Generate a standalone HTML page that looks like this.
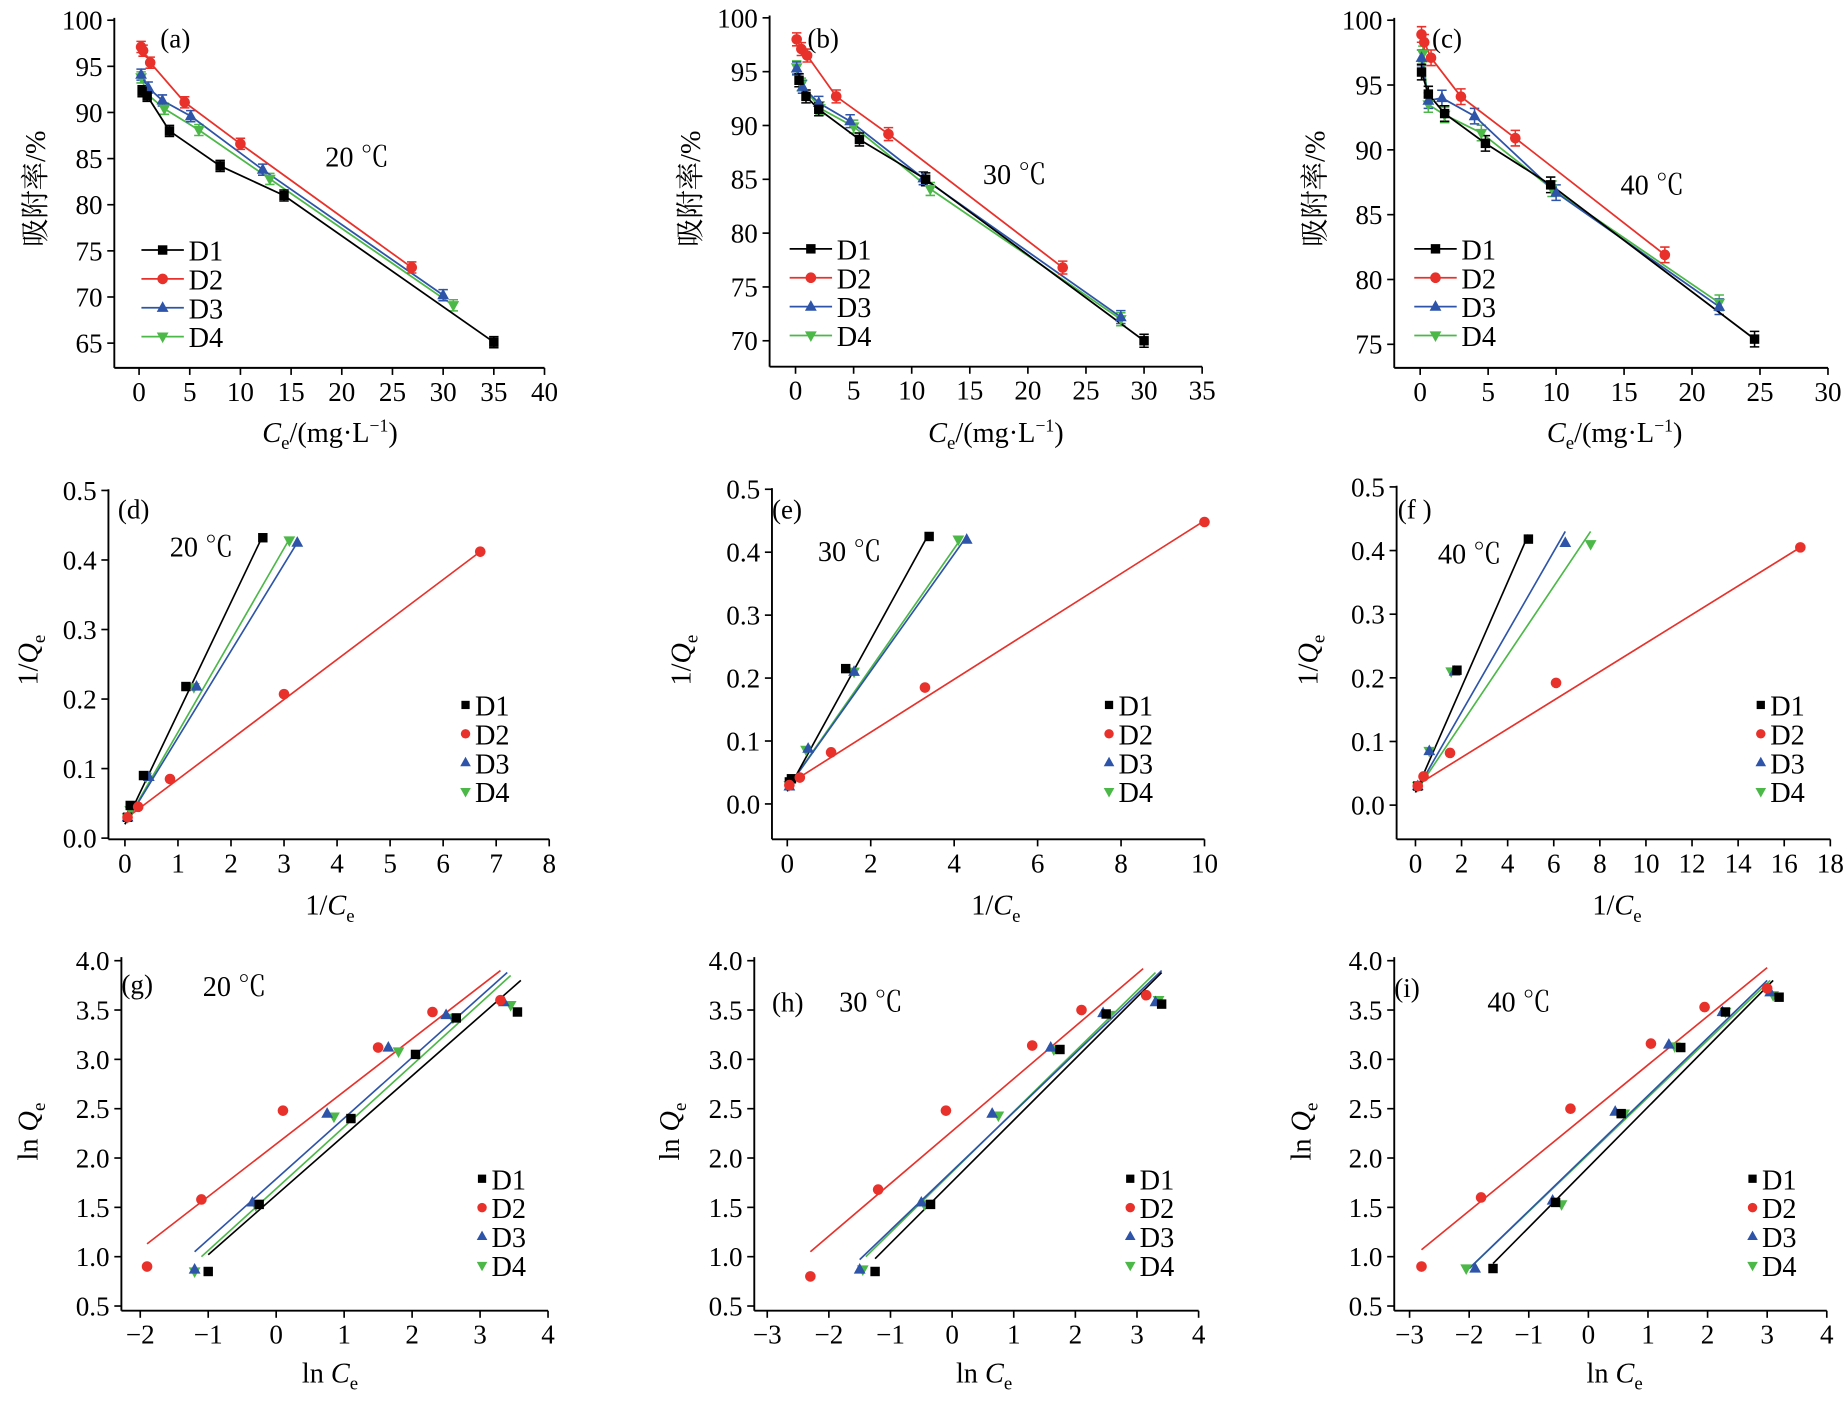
<!DOCTYPE html>
<html><head><meta charset="utf-8"><style>
html,body{margin:0;padding:0;background:#fff}
svg{display:block}
text{font-family:"Liberation Serif","Noto Serif CJK SC",serif;fill:#000}
</style></head><body>
<svg id="s" width="1848" height="1404" viewBox="0 0 1568 1191" xmlns="http://www.w3.org/2000/svg"></svg>
<script>
const S=document.getElementById('s');const NS='http://www.w3.org/2000/svg';
function el(t,a,txt){const e=document.createElementNS(NS,t);for(const k in a)e.setAttribute(k,a[k]);if(txt!==undefined)e.textContent=txt;S.appendChild(e);return e;}
const COL={D1:'#000',D2:'#e8312a',D3:'#2d54a8',D4:'#4cb848'};
function marker(k,x,y,s){s=s||4.5;const c=COL[k];
 if(k=='D1')el('rect',{x:x-s+0.5,y:y-s+0.5,width:2*s-1,height:2*s-1,fill:c});
 else if(k=='D2')el('circle',{cx:x,cy:y,r:s,fill:c});
 else if(k=='D3')el('polygon',{points:`${x},${y-s-1} ${x-s-0.5},${y+s-1} ${x+s+0.5},${y+s-1}`,fill:c});
 else el('polygon',{points:`${x},${y+s+1} ${x-s-0.5},${y-s+1} ${x+s+0.5},${y-s+1}`,fill:c});}
function panel(p){
 const X=v=>p.x0+(v-p.xmin)*(p.x1-p.x0)/(p.xmax-p.xmin);
 const Y=v=>p.y0+(v-p.ymin)*(p.y1-p.y0)/(p.ymax-p.ymin);
 el('line',{x1:p.ax,y1:p.top,x2:p.ax,y2:p.ay,stroke:'#000','stroke-width':1.6});
 el('line',{x1:p.ax,y1:p.ay,x2:p.right,y2:p.ay,stroke:'#000','stroke-width':1.6});
 p.xt.forEach(v=>{const x=X(v);el('line',{x1:x,y1:p.ay,x2:x,y2:p.ay+6,stroke:'#000','stroke-width':1.4});
  el('text',{x:x,y:p.ay+28,'font-size':23,'text-anchor':'middle'},v<0?'\u2212'+(-v):String(v));});
 p.yt.forEach(v=>{const y=Y(v);el('line',{x1:p.ax-6,y1:y,x2:p.ax,y2:y,stroke:'#000','stroke-width':1.4});
  el('text',{x:p.ax-10,y:y+8,'font-size':23,'text-anchor':'end'},p.yf?v.toFixed(p.yf):String(v));});
 for(const k of ['D4','D3','D1','D2'].filter(k=>p.d[k])){const d=p.d[k];
  if(p.fit){const f=p.fit[k];el('line',{x1:X(f[0]),y1:Y(f[1]),x2:X(f[2]),y2:Y(f[3]),stroke:COL[k],'stroke-width':1.4});}
  else{el('polyline',{points:d.map(q=>X(q[0])+','+Y(q[1])).join(' '),fill:'none',stroke:COL[k],'stroke-width':1.5});
   d.forEach(q=>{const x=X(q[0]),y1=Y(q[1]+0.6),y2=Y(q[1]-0.6);
    el('path',{d:`M${x},${y1}V${y2}M${x-4},${y1}H${x+4}M${x-4},${y2}H${x+4}`,stroke:COL[k],'stroke-width':1.3,fill:'none'});});}
 }
 for(const k of ['D4','D3','D1','D2']){p.d[k].forEach(q=>marker(k,X(q[0]),Y(q[1])));}
 ['D1','D2','D3','D4'].forEach((k,i)=>{const y=p.lg[1]+i*24.5;
  if(p.fit){marker(k,p.lg[0]+4,y,4);el('text',{x:p.lg[0]+12,y:y+9,'font-size':24},k);}
  else{el('line',{x1:p.lg[0],y1:y,x2:p.lg[0]+36,y2:y,stroke:COL[k],'stroke-width':1.5});marker(k,p.lg[0]+18,y);
   el('text',{x:p.lg[0]+40,y:y+9,'font-size':24},k);}});
 el('text',{x:p.lt[0],y:p.lt[1],'font-size':23},p.L);
 el('text',{x:p.tt[0],y:p.tt[1],'font-size':24},p.T);
}
panel({L:'(a)',lt:[136,40],T:'20 \u2103',tt:[276,141],ax:97,ay:312,top:15,right:462,x0:118,x1:462,xmin:0,xmax:40,y0:17,y1:291,ymin:100,ymax:65,
 xt:[0,5,10,15,20,25,30,35,40],yt:[65,70,75,80,85,90,95,100],lg:[120,212],
 d:{D1:[[0.3,92.3],[0.8,91.8],[3,88],[8,84.2],[14.3,81],[35,65.1]],D2:[[0.2,97.1],[0.4,96.7],[1.1,95.4],[4.5,91.1],[10,86.6],[26.9,73.2]],
 D3:[[0.2,94.1],[0.9,92.7],[2.3,91.3],[5.1,89.6],[12.2,83.8],[30,70.2]],D4:[[0.2,93.8],[0.8,92],[2.5,90.4],[5.9,88.1],[12.9,82.8],[31,69.1]]}});
panel({L:'(b)',lt:[685,40],T:'30 \u2103',tt:[834,156],ax:653,ay:311,top:13,right:1020,x0:675,x1:1020,xmin:0,xmax:35,y0:15,y1:289,ymin:100,ymax:70,
 xt:[0,5,10,15,20,25,30,35],yt:[70,75,80,85,90,95,100],lg:[670,211],
 d:{D1:[[0.3,94.2],[0.9,92.7],[2,91.5],[5.5,88.7],[11.2,85],[30,70]],D2:[[0.1,98],[0.5,97.1],[1,96.5],[3.5,92.7],[8,89.2],[23,76.8]],
 D3:[[0.1,95.3],[0.6,93.6],[2,92.1],[4.7,90.4],[11,85.1],[28,72.2]],D4:[[0.1,95.4],[0.5,93.8],[2.1,91.6],[5,89.9],[11.6,84.1],[28,72.0]]}});
panel({L:'(c)',lt:[1215,40],T:'40 \u2103',tt:[1375,165],ax:1183,ay:312,top:15,right:1551,x0:1205,x1:1551,xmin:0,xmax:30,y0:17,y1:292,ymin:100,ymax:75,
 xt:[0,5,10,15,20,25,30],yt:[75,80,85,90,95,100],lg:[1200,211],
 d:{D1:[[0.1,96],[0.6,94.3],[1.8,92.8],[4.8,90.5],[9.6,87.3],[24.6,75.4]],D2:[[0.1,98.9],[0.3,98.3],[0.8,97.1],[3,94.1],[7,90.9],[18,81.9]],
 D3:[[0.1,97.1],[0.6,93.8],[1.6,94],[4,92.6],[10,86.7],[22,77.9]],D4:[[0.2,97.4],[0.6,93.5],[1.8,92.7],[4.5,91.3],[9.7,87],[22,78.2]]}});
const yt2=[0,0.1,0.2,0.3,0.4,0.5];
panel({L:'(d)',lt:[100,440],T:'20 \u2103',tt:[144,472],ax:92,ay:712,top:415,right:466,x0:106,x1:466,xmin:0,xmax:8,y0:711,y1:416,ymin:0,ymax:0.5,yf:1,
 xt:[0,1,2,3,4,5,6,7,8],yt:yt2,lg:[391,598],
 d:{D1:[[0.05,0.03],[0.1,0.047],[0.35,0.09],[1.15,0.218],[2.6,0.432]],D2:[[0.05,0.03],[0.25,0.045],[0.85,0.085],[3,0.207],[6.7,0.412]],
 D3:[[0.05,0.03],[0.45,0.088],[1.35,0.218],[3.25,0.425]],D4:[[0.05,0.03],[0.1,0.04],[0.4,0.088],[1.3,0.217],[3.1,0.428]]},
 fit:{D1:[0,0.02,2.6,0.435],D2:[0.05,0.03,6.7,0.412],D3:[0,0.02,3.25,0.425],D4:[0,0.02,3.1,0.43]}});
panel({L:'(e)',lt:[655,440],T:'30 \u2103',tt:[694,476],ax:655,ay:712,top:414,right:1022,x0:668,x1:1022,xmin:0,xmax:10,y0:682,y1:415,ymin:0,ymax:0.5,yf:1,
 xt:[0,2,4,6,8,10],yt:yt2,lg:[937,598],
 d:{D1:[[0.05,0.035],[0.1,0.04],[1.4,0.215],[3.4,0.425]],D2:[[0.05,0.03],[0.3,0.042],[1.05,0.082],[3.3,0.185],[10,0.448]],
 D3:[[0.05,0.028],[0.5,0.088],[1.6,0.21],[4.3,0.42]],D4:[[0.05,0.03],[0.45,0.086],[1.6,0.21],[4.1,0.42]]},
 fit:{D1:[0,0.02,3.4,0.43],D2:[0,0.03,10,0.45],D3:[0,0.025,4.3,0.425],D4:[0,0.025,4.2,0.425]}});
panel({L:'(f )',lt:[1186,440],T:'40 \u2103',tt:[1220,478],ax:1185,ay:712,top:412,right:1553,x0:1201,x1:1553,xmin:0,xmax:18,y0:683,y1:413,ymin:0,ymax:0.5,yf:1,
 xt:[0,2,4,6,8,10,12,14,16,18],yt:yt2,lg:[1490,598],
 d:{D1:[[0.1,0.03],[1.8,0.212],[4.9,0.418]],D2:[[0.1,0.03],[0.35,0.045],[1.5,0.082],[6.1,0.192],[16.7,0.405]],
 D3:[[0.1,0.03],[0.6,0.085],[1.7,0.21],[6.5,0.412]],D4:[[0.1,0.03],[0.6,0.085],[1.55,0.21],[7.6,0.41]]},
 fit:{D1:[0,0.02,4.9,0.425],D2:[0,0.03,16.7,0.405],D3:[0,0.02,6.5,0.43],D4:[0,0.02,7.6,0.43]}});
const yt3=[0.5,1,1.5,2,2.5,3,3.5,4];
panel({L:'(g)',lt:[103,843],T:'20 \u2103',tt:[172,845],ax:103,ay:1112,top:812,right:465,x0:119,x1:465,xmin:-2,xmax:4,y0:815,y1:1108,ymin:4,ymax:0.5,yf:1,
 xt:[-2,-1,0,1,2,3,4],yt:yt3,lg:[405,1000],
 d:{D1:[[-1,0.85],[-0.25,1.53],[1.1,2.4],[2.05,3.05],[2.65,3.42],[3.55,3.48]],D2:[[-1.9,0.9],[-1.1,1.58],[0.1,2.48],[1.5,3.12],[2.3,3.48],[3.3,3.6]],
 D3:[[-1.2,0.87],[-0.35,1.55],[0.75,2.45],[1.65,3.12],[2.5,3.45],[3.35,3.58]],D4:[[-1.2,0.85],[-0.3,1.52],[0.85,2.42],[1.8,3.08],[2.6,3.42],[3.45,3.55]]},
 fit:{D1:[-1,1.02,3.6,3.8],D2:[-1.9,1.13,3.3,3.9],D3:[-1.2,1.05,3.4,3.88],D4:[-1.1,1.0,3.45,3.85]}});
panel({L:'(h)',lt:[655,858],T:'30 \u2103',tt:[712,858],ax:640,ay:1112,top:812,right:1017,x0:651,x1:1017,xmin:-3,xmax:4,y0:815,y1:1108,ymin:4,ymax:0.5,yf:1,
 xt:[-3,-2,-1,0,1,2,3,4],yt:yt3,lg:[955,1000],
 d:{D1:[[-1.25,0.85],[-0.35,1.53],[1.75,3.1],[2.5,3.46],[3.4,3.56]],D2:[[-2.3,0.8],[-1.2,1.68],[-0.1,2.48],[1.3,3.14],[2.1,3.5],[3.15,3.65]],
 D3:[[-1.5,0.87],[-0.5,1.55],[0.65,2.45],[1.6,3.12],[2.45,3.47],[3.3,3.58]],D4:[[-1.45,0.87],[-0.45,1.53],[0.75,2.43],[1.65,3.1],[2.55,3.45],[3.35,3.6]]},
 fit:{D1:[-1.25,0.98,3.4,3.88],D2:[-2.3,1.05,3.1,3.92],D3:[-1.5,0.97,3.4,3.9],D4:[-1.4,1.0,3.3,3.88]}});
panel({L:'(i)',lt:[1183,846],T:'40 \u2103',tt:[1262,858],ax:1183,ay:1112,top:812,right:1550,x0:1196,x1:1550,xmin:-3,xmax:4,y0:815,y1:1108,ymin:4,ymax:0.5,yf:1,
 xt:[-3,-2,-1,0,1,2,3,4],yt:yt3,lg:[1483,1000],
 d:{D1:[[-1.6,0.88],[-0.55,1.55],[0.55,2.45],[1.55,3.12],[2.3,3.48],[3.2,3.63]],D2:[[-2.8,0.9],[-1.8,1.6],[-0.3,2.5],[1.05,3.16],[1.95,3.53],[3,3.72]],
 D3:[[-1.9,0.88],[-0.6,1.57],[0.45,2.47],[1.35,3.15],[2.25,3.48],[3.05,3.68]],D4:[[-2.05,0.88],[-0.45,1.53],[0.6,2.45],[1.45,3.13],[2.3,3.48],[3.1,3.65]]},
 fit:{D1:[-1.6,0.93,3.1,3.8],D2:[-2.8,1.07,3.0,3.93],D3:[-2,0.88,3.0,3.8],D4:[-2,0.88,3.05,3.8]}});
</script>
<svg style="position:absolute;left:0;top:0" width="1848" height="1404" viewBox="0 0 1568 1191" xmlns="http://www.w3.org/2000/svg">
<g font-size="24">
<text x="280" y="375" text-anchor="middle"><tspan font-style="italic">C</tspan><tspan font-size="16" dy="6">e</tspan><tspan dy="-6">/(mg·L</tspan><tspan font-size="15" dy="-9">−1</tspan><tspan dy="9">)</tspan></text>
<text x="845" y="375" text-anchor="middle"><tspan font-style="italic">C</tspan><tspan font-size="16" dy="6">e</tspan><tspan dy="-6">/(mg·L</tspan><tspan font-size="15" dy="-9">−1</tspan><tspan dy="9">)</tspan></text>
<text x="1370" y="375" text-anchor="middle"><tspan font-style="italic">C</tspan><tspan font-size="16" dy="6">e</tspan><tspan dy="-6">/(mg·L</tspan><tspan font-size="15" dy="-9">−1</tspan><tspan dy="9">)</tspan></text>
<text x="280" y="776" text-anchor="middle">1/<tspan font-style="italic">C</tspan><tspan font-size="16" dy="6">e</tspan></text>
<text x="845" y="776" text-anchor="middle">1/<tspan font-style="italic">C</tspan><tspan font-size="16" dy="6">e</tspan></text>
<text x="1372" y="776" text-anchor="middle">1/<tspan font-style="italic">C</tspan><tspan font-size="16" dy="6">e</tspan></text>
<text x="280" y="1173" text-anchor="middle">ln <tspan font-style="italic">C</tspan><tspan font-size="16" dy="6">e</tspan></text>
<text x="835" y="1173" text-anchor="middle">ln <tspan font-style="italic">C</tspan><tspan font-size="16" dy="6">e</tspan></text>
<text x="1370" y="1173" text-anchor="middle">ln <tspan font-style="italic">C</tspan><tspan font-size="16" dy="6">e</tspan></text>
<text transform="translate(38,160) rotate(-90)" text-anchor="middle">吸附率/%</text>
<text transform="translate(594,160) rotate(-90)" text-anchor="middle">吸附率/%</text>
<text transform="translate(1124,160) rotate(-90)" text-anchor="middle">吸附率/%</text>
<text transform="translate(32,560) rotate(-90)" text-anchor="middle">1/<tspan font-style="italic">Q</tspan><tspan font-size="16" dy="6">e</tspan></text>
<text transform="translate(586,560) rotate(-90)" text-anchor="middle">1/<tspan font-style="italic">Q</tspan><tspan font-size="16" dy="6">e</tspan></text>
<text transform="translate(1118,560) rotate(-90)" text-anchor="middle">1/<tspan font-style="italic">Q</tspan><tspan font-size="16" dy="6">e</tspan></text>
<text transform="translate(32,960) rotate(-90)" text-anchor="middle">ln <tspan font-style="italic">Q</tspan><tspan font-size="16" dy="6">e</tspan></text>
<text transform="translate(576,960) rotate(-90)" text-anchor="middle">ln <tspan font-style="italic">Q</tspan><tspan font-size="16" dy="6">e</tspan></text>
<text transform="translate(1112,960) rotate(-90)" text-anchor="middle">ln <tspan font-style="italic">Q</tspan><tspan font-size="16" dy="6">e</tspan></text>
</g>
</svg>
</body></html>
